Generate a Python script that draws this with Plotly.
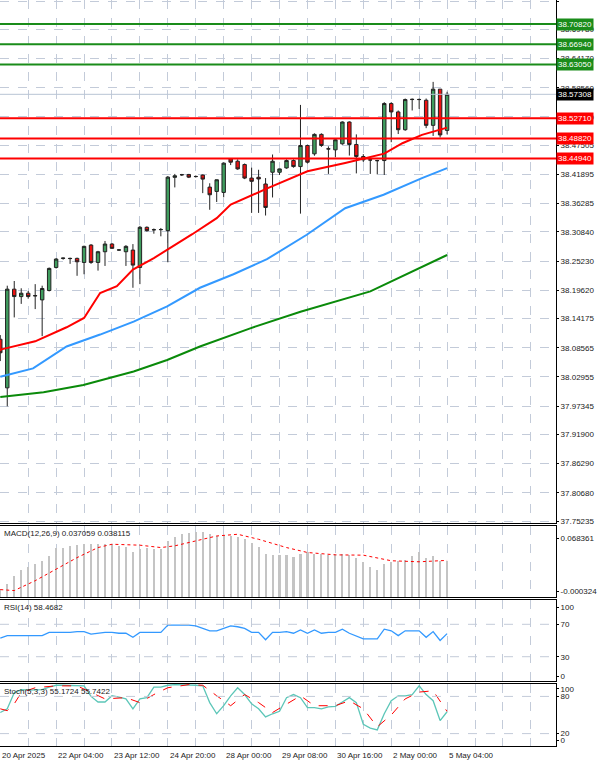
import plotly.graph_objects as go

# bar index -1..63 (4H bars)
bars = list(range(-1, 64))
opens = [38.102, 38.0085, 38.1983, 38.184, 38.1905, 38.186, 38.1777, 38.1957, 38.2401, 38.2575,
         38.2575, 38.2575, 38.2497, 38.2831, 38.2497, 38.2703, 38.2851, 38.2735, 38.2703, 38.2735,
         38.2401, 38.3173, 38.3128, 38.3128, 38.3109, 38.4134, 38.4183, 38.4189, 38.4151, 38.4177,
         38.3946, 38.3863, 38.3844, 38.4490, 38.4444, 38.438, 38.412, 38.4135, 38.4006, 38.4232,
         38.4232, 38.4315, 38.4457, 38.4341, 38.4747, 38.4586, 38.4960, 38.4683, 38.4663, 38.4779,
         38.5198, 38.4766, 38.4534, 38.4470, 38.4457, 38.4457, 38.5553, 38.5392, 38.505, 38.5630,
         38.5632, 38.5617, 38.5134, 38.583, 38.5037]
highs = [38.110, 38.205, 38.214, 38.200, 38.195, 38.208, 38.205, 38.240, 38.258, 38.259,
         38.259, 38.259, 38.282, 38.285, 38.272, 38.291, 38.287, 38.275, 38.283, 38.285,
         38.320, 38.319, 38.315, 38.316, 38.416, 38.420, 38.420, 38.420, 38.417, 38.419,
         38.402, 38.409, 38.442, 38.4496, 38.448, 38.440, 38.432, 38.428, 38.412, 38.4573,
         38.430, 38.448, 38.448, 38.5527, 38.476, 38.498, 38.498, 38.473, 38.487, 38.521,
         38.521, 38.496, 38.458, 38.449, 38.447, 38.558, 38.558, 38.542, 38.565, 38.565,
         38.565, 38.565, 38.597, 38.583, 38.578]
lows = [38.060, 37.973, 38.144, 38.170, 38.180, 38.160, 38.108, 38.194, 38.238, 38.255,
        38.247, 38.224, 38.227, 38.247, 38.234, 38.243, 38.276, 38.272, 38.243, 38.201,
        38.208, 38.309, 38.305, 38.300, 38.250, 38.394, 38.416, 38.412, 38.413, 38.383,
        38.351, 38.366, 38.375, 38.437, 38.428, 38.410, 38.345, 38.345, 38.340, 38.3747,
        38.418, 38.430, 38.432, 38.3436, 38.440, 38.455, 38.472, 38.420, 38.452, 38.476,
        38.4553, 38.421, 38.443, 38.420, 38.419, 38.418, 38.481, 38.4967, 38.503, 38.542,
        38.545, 38.508, 38.493, 38.490, 38.496]
closes = [38.076, 38.1983, 38.1841, 38.1905, 38.1841, 38.1855, 38.1996, 38.2382, 38.2562, 38.258,
          38.2572, 38.251, 38.2806, 38.2497, 38.2703, 38.2851, 38.2768, 38.2738, 38.2806, 38.2446,
          38.3173, 38.3109, 38.3125, 38.313, 38.4138, 38.4163, 38.4185, 38.4138, 38.4149, 38.410,
          38.3799, 38.4087, 38.4407, 38.4425, 38.4296, 38.412, 38.4057, 38.4103, 38.3555, 38.4444,
          38.4296, 38.4457, 38.4341, 38.4747, 38.4425, 38.4960, 38.4747, 38.4680, 38.4857, 38.5198,
          38.4766, 38.4534, 38.4470, 38.4468, 38.4455, 38.5553, 38.5392, 38.505, 38.563, 38.5634,
          38.5630, 38.5134, 38.583, 38.495, 38.5731]

# moving averages, sampled points
ma_red_x = [-1, 4, 8.5, 11, 13.3, 15.7, 18, 21, 23, 26.5, 30, 32, 37.4, 43, 48.4, 51, 54, 56.6, 59.4, 63]
ma_red_y = [38.082, 38.098, 38.125, 38.143, 38.191, 38.204, 38.236, 38.258, 38.275, 38.304,
            38.335, 38.361, 38.393, 38.425, 38.441, 38.450, 38.459, 38.479, 38.495, 38.509]
ma_blue_x = [-1, 3.7, 8.5, 13.3, 18.1, 22.9, 27.6, 32.4, 37.2, 42.9, 48.4, 53.9, 59.4, 63]
ma_blue_y = [38.030, 38.046, 38.088, 38.111, 38.136, 38.165, 38.201, 38.227, 38.256, 38.303,
             38.354, 38.380, 38.412, 38.431]
ma_green_x = [-1, 5.2, 10.9, 18.1, 22.9, 27.6, 34.8, 42, 52, 63]
ma_green_y = [37.991, 38.000, 38.014, 38.040, 38.062, 38.088, 38.123, 38.155, 38.194, 38.264]

levels_green = [38.70820, 38.66940, 38.63050]
levels_red = [38.52710, 38.48820, 38.44940]
last_price = 38.57308

price_ticks = [38.75225, 38.69780, 38.64170, 38.58560, 38.52950, 38.47505, 38.41895, 38.36285,
               38.30840, 38.25230, 38.19620, 38.14175, 38.08565, 38.02955, 37.97345, 37.91900,
               37.86290, 37.80680, 37.75235]

macd_hist = [0.0080, 0.0133, 0.0220, 0.0279, 0.0314, 0.0342, 0.0377, 0.0429, 0.0516, 0.0516, 0.0534,
             0.0541, 0.0558, 0.0558, 0.0551, 0.0558, 0.0551, 0.0537, 0.0523, 0.0474, 0.0499,
             0.0509, 0.0499, 0.0499, 0.0586, 0.0628, 0.0656, 0.0673, 0.0684, 0.0680, 0.0656,
             0.0638, 0.0638, 0.0638, 0.0628, 0.0603, 0.0569, 0.0523, 0.0446, 0.0436, 0.0436,
             0.0436, 0.0419, 0.0446, 0.0464, 0.0446, 0.0446, 0.0439, 0.0446, 0.0453, 0.0439,
             0.0401, 0.0359, 0.0307, 0.0279, 0.0342, 0.0359, 0.0377, 0.0384, 0.0429, 0.0464,
             0.0405, 0.0429, 0.0377, 0.0371]
macd_sig_x = [-1, 1, 4, 7, 10, 13, 15, 19, 22, 24, 27, 30, 33, 36, 40, 43, 47, 51, 55, 59, 63]
macd_sig_y = [0.0073, 0.0063, 0.0167, 0.029, 0.041, 0.0516, 0.0551, 0.0541, 0.0516, 0.0534,
              0.0586, 0.0638, 0.0656, 0.0603, 0.0516, 0.0464, 0.0439, 0.0436, 0.0377, 0.0366, 0.0381]

rsi = [53, 56, 56, 56, 56, 56, 56, 60, 60, 60, 60, 61, 61, 58, 59, 60, 60, 59, 59, 54, 60,
       60, 60, 60, 69, 69, 69, 69, 68, 65, 62, 62, 65, 68, 67, 65, 60, 60, 51, 60, 60,
       61, 59, 63, 59, 63, 59, 60, 60, 64, 59, 55, 52, 52, 52, 64, 62, 56, 62, 62, 62,
       54, 61, 50, 58.5]

stoch_k = [54, 60, 86, 91, 90, 90, 91, 95, 98, 98, 98, 98, 97, 80, 71, 71, 81, 79, 76, 60,
           76, 78, 95, 95, 98, 99, 99, 99, 98, 97, 70, 52, 65, 81, 94, 83, 68, 60, 47, 52,
           56, 78, 83, 78, 62, 62, 60, 63, 64, 71, 78, 70, 35, 29, 26, 52, 73, 81, 81, 83,
           97, 83, 73, 41, 55.2]
stoch_d_x = [-1, 0, 1, 2, 4, 7, 10, 12, 14, 17, 19, 21, 23, 26, 28, 30, 32, 34, 36, 38, 40,
             42, 44, 47, 49, 51, 53, 55, 57, 59, 61, 63]
stoch_d_y = [60, 57, 68, 86, 94, 97, 97, 86, 76, 78, 70, 83, 94, 99, 98, 81, 65, 83, 70, 54,
             68, 81, 65, 65, 73, 60, 31, 50, 76, 87, 89, 55.7]

date_ticks = [-1, 7, 15, 23, 31, 39, 47, 55, 63]
date_labels = ["20 Apr 2025", "22 Apr 04:00", "23 Apr 12:00", "24 Apr 20:00", "28 Apr 00:00",
               "29 Apr 08:00", "30 Apr 16:00", "2 May 00:00", "5 May 04:00"]

FONT = "Liberation Sans"
GRID = "#c3cbd9"
XR = [-1.04, 78.6]

fig = go.Figure()

fig.add_trace(go.Candlestick(
    x=bars, open=opens, high=highs, low=lows, close=closes,
    increasing=dict(fillcolor="#3f9c5e", line=dict(color="#222222", width=1)),
    decreasing=dict(fillcolor="#ee1111", line=dict(color="#222222", width=1)),
    whiskerwidth=0, xaxis="x", yaxis="y", showlegend=False))
fig.add_trace(go.Scatter(x=ma_green_x, y=ma_green_y, mode="lines",
                         line=dict(color="#0a8a0a", width=2), xaxis="x", yaxis="y"))
fig.add_trace(go.Scatter(x=ma_blue_x, y=ma_blue_y, mode="lines",
                         line=dict(color="#3399ff", width=2), xaxis="x", yaxis="y"))
fig.add_trace(go.Scatter(x=ma_red_x, y=ma_red_y, mode="lines",
                         line=dict(color="#ff0000", width=2), xaxis="x", yaxis="y"))

fig.add_trace(go.Bar(x=bars, y=macd_hist, marker=dict(color="#c4c4c4", line=dict(width=0)),
                     width=0.3, xaxis="x2", yaxis="y2"))
fig.add_trace(go.Scatter(x=macd_sig_x, y=macd_sig_y, mode="lines",
                         line=dict(color="#ff0000", width=1, dash="dot"), xaxis="x2", yaxis="y2"))

fig.add_trace(go.Scatter(x=bars, y=rsi, mode="lines", line=dict(color="#3399ff", width=1.3),
                         xaxis="x3", yaxis="y3"))

fig.add_trace(go.Scatter(x=bars, y=stoch_k, mode="lines", line=dict(color="#5cc6b8", width=1.3),
                         xaxis="x4", yaxis="y4"))
fig.add_trace(go.Scatter(x=stoch_d_x, y=stoch_d_y, mode="lines",
                         line=dict(color="#ff0000", width=1, dash="dash"), xaxis="x4", yaxis="y4"))

shapes = []
for lv in levels_green:
    shapes.append(dict(type="line", xref="x domain", yref="y", x0=0, x1=1, y0=lv, y1=lv,
                       line=dict(color="#1a8c1a", width=2)))
for lv in levels_red:
    shapes.append(dict(type="line", xref="x domain", yref="y", x0=0, x1=1, y0=lv, y1=lv,
                       line=dict(color="#ff0000", width=2)))
shapes.append(dict(type="line", xref="x domain", yref="y", x0=0, x1=1, y0=last_price, y1=last_price,
                   line=dict(color="#b8c4d4", width=1)))
for lv in (70, 30):
    shapes.append(dict(type="line", xref="x3 domain", yref="y3", x0=0, x1=1, y0=lv, y1=lv,
                       line=dict(color=GRID, width=1, dash="dash")))
for lv in (80, 20):
    shapes.append(dict(type="line", xref="x4 domain", yref="y4", x0=0, x1=1, y0=lv, y1=lv,
                       line=dict(color=GRID, width=1, dash="dash")))

annotations = []
for lv, col in [(v, "#1a8c1a") for v in levels_green] + [(v, "#ff0000") for v in levels_red] + [(last_price, "#000000")]:
    annotations.append(dict(x=1, xref="paper", y=lv, yref="y", text=f"{lv:.5f}", showarrow=False,
                            xanchor="left", xshift=0, bgcolor=col, borderpad=1,
                            font=dict(family=FONT, size=8, color="white")))
for txt, ydom in [("MACD(12,26,9) 0.037059 0.038115", 0.2949),
                  ("RSI(14) 58.4682", 0.1957),
                  ("Stoch(5,3,3) 55.1724 55.7422", 0.0831)]:
    annotations.append(dict(x=0, xref="paper", y=ydom, yref="paper", text=txt, showarrow=False,
                            xanchor="left", yanchor="top", xshift=2, yshift=-1,
                            font=dict(family=FONT, size=8, color="#222222")))
for t, lab in zip(date_ticks, date_labels):
    annotations.append(dict(x=t, xref="x4", y=0, yref="paper", text=lab, showarrow=False,
                            xanchor="left", yanchor="top", xshift=0, yshift=-3,
                            font=dict(family=FONT, size=8, color="#222222")))

xcommon = dict(range=XR, showgrid=True, gridcolor=GRID, griddash="dash", tick0=-1, dtick=4,
               showticklabels=False, showline=True, linecolor="black", linewidth=1, mirror=True,
               zeroline=False, ticks="")
ycommon = dict(side="right", showline=True, linecolor="black", linewidth=1, mirror=True,
               zeroline=False, tickfont=dict(family=FONT, size=8, color="#222222"), ticks="outside",
               ticklen=2, tickcolor="black")

fig.update_layout(
    width=600, height=766, margin=dict(l=0, r=44, t=0, b=20, pad=0),
    paper_bgcolor="white", plot_bgcolor="white", showlegend=False, bargap=0,
    xaxis=dict(**xcommon, anchor="y", rangeslider=dict(visible=False)),
    xaxis2=dict(**xcommon, anchor="y2", matches="x"),
    xaxis3=dict(**xcommon, anchor="y3", matches="x"),
    xaxis4=dict(**xcommon, anchor="y4", matches="x"),
    yaxis=dict(**ycommon, domain=[0.2989, 1], range=[37.7485, 38.7545], tickvals=price_ticks,
               ticktext=[f"{v:.5f}" for v in price_ticks], showgrid=True, gridcolor=GRID,
               griddash="dash"),
    yaxis2=dict(**ycommon, domain=[0.1997, 0.2949], range=[-0.0005, 0.0743],
                tickvals=[0.0614, 0.0052], ticktext=["0.068361", "-0.000324"], showgrid=False),
    yaxis3=dict(**ycommon, domain=[0.0871, 0.1957], range=[0, 100],
                tickvals=[91, 70, 30, 6], ticktext=["100", "70", "30", "0"], showgrid=False),
    yaxis4=dict(**ycommon, domain=[0, 0.0831], range=[0, 100],
                tickvals=[92, 80, 20, 9], ticktext=["100", "80", "20", "0"], showgrid=False),
    shapes=shapes, annotations=annotations,
)

fig.write_html("out.html", config={"displayModeBar": False},
               post_script="document.body.style.margin='0';document.body.style.overflow='hidden';")
